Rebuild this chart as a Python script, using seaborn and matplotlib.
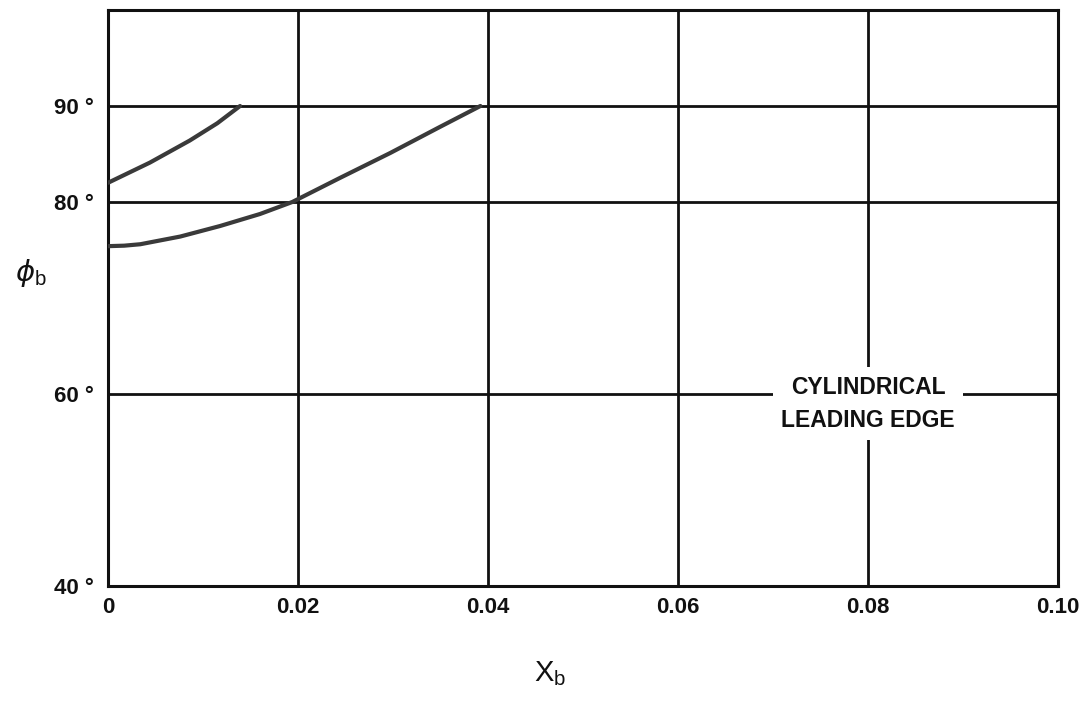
import matplotlib
matplotlib.use("Agg")
import matplotlib.pyplot as plt
import seaborn as sns
import pandas as pd

# Data
upper_x = [0.0, 0.0044, 0.0086, 0.0115, 0.0139]
upper_y = [82.0, 84.1, 86.4, 88.2, 90.0]
lower_x = [0.0, 0.0017, 0.0034, 0.0076, 0.0118, 0.016, 0.0194, 0.0244, 0.0297, 0.0349, 0.0392]
lower_y = [75.4, 75.45, 75.6, 76.4, 77.5, 78.75, 80.0, 82.5, 85.1, 87.8, 90.0]
x_ticks = [0.0, 0.02, 0.04, 0.06, 0.08, 0.10]
x_tick_labels = ["0", "0.02", "0.04", "0.06", "0.08", "0.10"]
y_ticks = [40, 60, 80, 90]
y_tick_labels = ["40 °", "60 °", "80 °", "90 °"]
annotation = "CYLINDRICAL\nLEADING EDGE"

sns.set_theme(style="white")
plt.rcParams['font.family'] = ['Liberation Sans', 'DejaVu Sans']

df = pd.concat([
    pd.DataFrame({"x": upper_x, "y": upper_y, "curve": "upper"}),
    pd.DataFrame({"x": lower_x, "y": lower_y, "curve": "lower"}),
])

fig = plt.figure(figsize=(10.89, 7.08), dpi=100)
ax = fig.add_axes([0.0992, 0.1723, 0.8723, 0.8136])

for v in x_ticks[1:-1]:
    ax.axvline(v, color="#111111", lw=2.0, zorder=1)
for v in y_ticks[1:]:
    ax.axhline(v, color="#111111", lw=2.0, zorder=1)

sns.lineplot(data=df, x="x", y="y", hue="curve", palette=["#3a3a3a", "#3a3a3a"],
             linewidth=3.0, legend=False, ax=ax, zorder=3, sort=True, estimator=None)
for ln in ax.get_lines():
    ln.set_solid_capstyle("round")
    ln.set_solid_joinstyle("round")

ax.set_xlim(0, 0.10)
ax.set_ylim(40, 100)
ax.set_xticks(x_ticks)
ax.set_xticklabels(x_tick_labels, fontsize=16, fontweight="bold", color="#111111")
ax.set_yticks(y_ticks)
ax.set_yticklabels(y_tick_labels, fontsize=16, fontweight="bold", color="#111111")
ax.tick_params(axis="both", length=0)
ax.tick_params(axis="x", pad=8)
ax.tick_params(axis="y", pad=10)
for s in ax.spines.values():
    s.set_color("#111111")
    s.set_linewidth(2.2)

ax.set_xlabel("")
ax.set_ylabel("")
fig.text(0.505, 0.048, r"X$_{\mathregular{b}}$", fontsize=21, ha="center", va="center",
         color="#111111")
fig.text(0.028, 0.615, r"$\phi_{\mathregular{b}}$", fontsize=21, ha="center", va="center",
         color="#111111")

ax.text(0.08, 59.0, annotation, fontsize=16.5, fontweight="bold", ha="center", va="center",
        linespacing=1.55, zorder=4, color="#111111",
        bbox=dict(facecolor="white", edgecolor="none", pad=6))

fig.savefig("out.png", dpi=100)
